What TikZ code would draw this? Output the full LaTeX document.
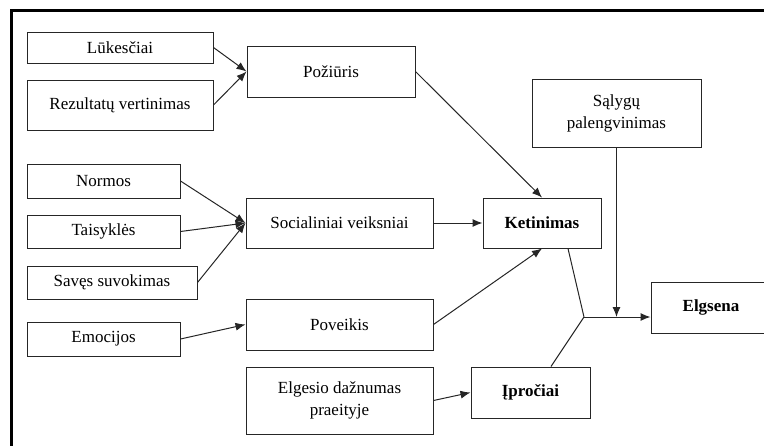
\documentclass[tikz,border=0pt]{standalone}
\usepackage{fontspec}
\setmainfont{Liberation Serif}
\usetikzlibrary{arrows.meta,positioning,calc}

\begin{document}
\begin{tikzpicture}[x=1pt, y=-1pt,
  every node/.style={font=\fontsize{17}{22}\selectfont},
  box/.style={draw=black!85, line width=1pt, inner sep=0pt, align=center},
  link/.style={-{Latex[length=10pt,width=8pt]}, line width=1pt, black!85}]
  \useasboundingbox (0,0) rectangle (764,445);
  \draw[line width=3pt] (11,446) -- (11,10) -- (766,10);
  \node[box, minimum width=186pt, minimum height=31pt] (luk) at (120,47.5) {Lūkesčiai};
  \node[box, minimum width=186pt, minimum height=50pt] (rez) at (120,105) {Rezultatų vertinimas};
  \node[box, minimum width=168pt, minimum height=51pt] (poz) at (331,71.5) {Požiūris};
  \node[box, minimum width=153pt, minimum height=34pt] (nor) at (103.5,181) {Normos};
  \node[box, minimum width=153pt, minimum height=33pt] (tai) at (103.5,231.5) {Taisyklės};
  \node[box, minimum width=170pt, minimum height=33pt] (sav) at (112,282.5) {Savęs suvokimas};
  \node[box, minimum width=153pt, minimum height=34pt] (emo) at (103.5,339) {Emocijos};
  \node[box, minimum width=187pt, minimum height=50pt] (soc) at (339.5,223) {Socialiniai veiksniai};
  \node[box, minimum width=187pt, minimum height=51pt] (pov) at (339.5,324.5) {Poveikis};
  \node[box, minimum width=187pt, minimum height=67pt] (dazn) at (339.5,400.5) {Elgesio dažnumas\\praeityje};
  \node[box, minimum width=118pt, minimum height=50pt] (ket) at (542,223) {\textbf{Ketinimas}};
  \node[box, minimum width=119pt, minimum height=51pt] (ipr) at (530.5,392.5) {\textbf{Įpročiai}};
  \node[box, minimum width=169pt, minimum height=68pt] (sal) at (616.5,113) {Sąlygų\\palengvinimas};
  \node[box, minimum width=120pt, minimum height=51pt] (elg) at (711,307.5) {\textbf{Elgsena}};
  \coordinate (jn) at (584,317);
  \draw[link] (luk.east) -- (poz.west);
  \draw[link] (rez.east) -- (poz.west);
  \draw[link] (nor.east) -- (soc.west);
  \draw[link] (tai.east) -- (soc.west);
  \draw[link] (sav.east) -- (soc.west);
  \draw[link] (emo.east) -- (pov.west);
  \draw[link] (poz.east) -- (ket.north);
  \draw[link] (soc.east) -- (ket.west);
  \draw[link] (pov.east) -- (ket.south);
  \draw[link] (dazn.east) -- (ipr.west);
  \draw[line width=1pt, black!85] ([xshift=26pt]ket.south) -- (jn);
  \draw[line width=1pt, black!85] ([xshift=20.5pt]ipr.north) -- (jn);
  \draw[link] (jn) -- (jn -| elg.west);
  \draw[link] (sal.south) -- (sal.south |- jn);
\end{tikzpicture}
\end{document}
